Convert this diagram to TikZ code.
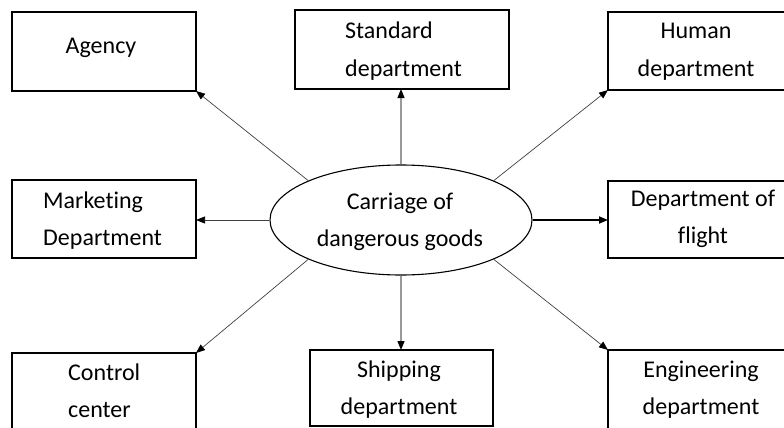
\documentclass[tikz,border=0pt]{standalone}
\usepackage{fontspec}
\setmainfont[Ligatures=NoCommon]{Carlito}
\usetikzlibrary{shapes.geometric,arrows.meta}
\begin{document}
\begin{tikzpicture}[x=1pt,y=-1pt,
  box/.style={draw=black,line width=1.8pt,minimum width=#1,inner sep=0pt,outer sep=0pt},
  lbl/.style={font=\fontsize{24}{37}\selectfont,inner sep=0pt,anchor=base,align=center},
  lbll/.style={font=\fontsize{24}{37}\selectfont,inner sep=0pt,anchor=base west,align=left},
  conn/.style={draw=black!75,line width=0.7pt,-{Triangle[length=9pt,width=7pt,color=black]}},
  vconn/.style={draw=black!40,line width=1.1pt,-{Triangle[length=9pt,width=7pt,color=black]}},
  thick conn/.style={draw=black,line width=1.8pt,-{Triangle[length=9pt,width=7pt]}}]
\useasboundingbox (0,0) rectangle (784,428);
\clip (0,0) rectangle (784,428);
% boxes
\node[box=184pt,minimum height=79pt] (agency) at (104,51.5) {};
\node[box=214pt,minimum height=79pt] (standard) at (402,49.5) {};
\node[box=190pt,minimum height=78pt] (human) at (703,51) {};
\node[box=184pt,minimum height=78pt] (marketing) at (104,219) {};
\node[box=190pt,minimum height=77pt] (flight) at (703,219.5) {};
\node[box=184pt,minimum height=79pt] (control) at (104,392.5) {};
\node[box=183pt,minimum height=76pt] (shipping) at (401.5,388) {};
\node[box=190pt,minimum height=79pt] (engineering) at (703,389.5) {};
% centre
\node[draw=black,line width=1.1pt,ellipse,minimum width=262pt,minimum height=110pt,inner sep=0pt] (ell) at (401,220) {};
% labels (base anchor = baseline of the last line)
\node[lbl] (tagency) at (101,54) {Agency};
\node[lbll] (tstandard) at (345,76) {Standard\\department};
\node[lbl] (thuman) at (696,76) {Human\\department};
\node[lbll] (tmarketing) at (43,245) {Marketing\\Department};
\node[lbl] (tflight) at (703,243) {Department of\\flight};
\node[lbll] (tcontrol) at (68,417) {Control\\center};
\node[lbl] (tshipping) at (399,414) {Shipping\\department};
\node[lbl] (tengineering) at (701,414) {Engineering\\department};
\node[lbl] (tell) at (400,246) {Carriage of\\dangerous goods};
% connectors
\draw[conn] (ell.157) -- (agency.south east);
\draw[vconn] (ell.north) -- (ell.north |- standard.south);
\draw[conn] (ell.23) -- (human.south west);
\draw[conn] (ell.west) -- (ell.west -| marketing.east);
\draw[thick conn] (ell.east) -- (ell.east -| flight.west);
\draw[conn] (ell.203) -- (control.north east);
\draw[vconn] (ell.south) -- (ell.south |- shipping.north);
\draw[conn] (ell.337) -- (engineering.north west);
\end{tikzpicture}
\end{document}
